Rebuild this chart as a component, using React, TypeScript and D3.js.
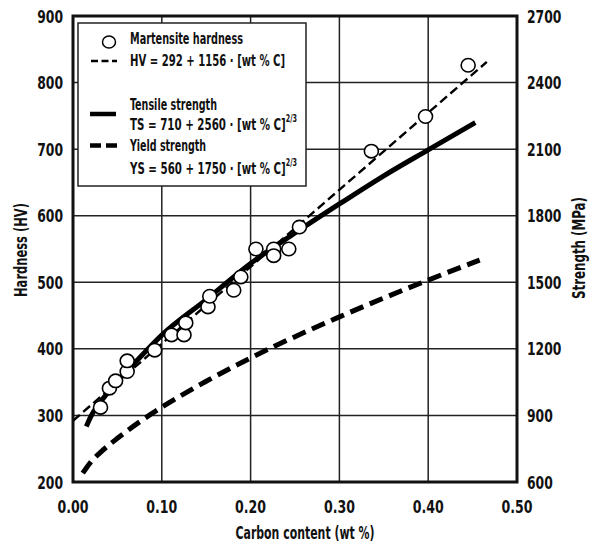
import React from "react";
import * as d3 from "d3";

// ---- data ----
const xTicks = [0, 0.1, 0.2, 0.3, 0.4, 0.5];
const hvTicks = [200, 300, 400, 500, 600, 700, 800, 900];
const mpaTicks = [600, 900, 1200, 1500, 1800, 2100, 2400, 2700];

// martensite hardness measurements (wt % C, HV)
const hardnessC = [0.031, 0.041, 0.048, 0.061, 0.061, 0.092, 0.111, 0.125, 0.127, 0.152, 0.154, 0.181, 0.189, 0.206, 0.226, 0.226, 0.243, 0.255, 0.336, 0.397, 0.445];
const hardnessHV = [312, 341, 352, 366, 382, 398, 421, 421, 439, 463, 479, 488, 508, 550, 550, 540, 550, 583, 697, 749, 826];

// HV fit line (wt % C, HV)
const hvLineC = [0, 0.466];
const hvLineHV = [292, 831];

// tensile strength curve (wt % C, MPa)
const tsC = [0.015, 0.02, 0.03, 0.05, 0.075, 0.1, 0.15, 0.2, 0.25, 0.3, 0.35, 0.4, 0.453];
const tsMPa = [850, 895, 955, 1053, 1160, 1262, 1422, 1585, 1722, 1853, 1980, 2097, 2220];

// yield strength curve (wt % C, MPa)
const ysC = [0.011, 0.02, 0.03, 0.05, 0.075, 0.1, 0.15, 0.2, 0.25, 0.3, 0.35, 0.4, 0.458];
const ysMPa = [640, 690, 730, 797, 871, 937, 1054, 1159, 1255, 1344, 1429, 1510, 1600];

const FONT = "'Liberation Sans Narrow', 'DejaVu Sans Condensed', 'Arial Narrow', sans-serif";

export default function App() {
  const W = 594, H = 545;
  const L = 73, R = 517, T = 16, B = 482;
  const x = d3.scaleLinear().domain([0, 0.5]).range([L, R]);
  const yHV = d3.scaleLinear().domain([200, 900]).range([B, T]);
  const yMPa = d3.scaleLinear().domain([600, 2700]).range([B, T]);

  const lineHV = d3.line<[number, number]>().x(d => x(d[0])).y(d => yHV(d[1]));
  const lineMPa = d3.line<[number, number]>().x(d => x(d[0])).y(d => yMPa(d[1])).curve(d3.curveMonotoneX);

  const hvPts: [number, number][] = hvLineC.map((c, i) => [c, hvLineHV[i]]);
  const tsPts: [number, number][] = tsC.map((c, i) => [c, tsMPa[i]]);
  const ysPts: [number, number][] = ysC.map((c, i) => [c, ysMPa[i]]);

  const lg = { x: 78, y: 23, w: 228, h: 163 };
  const tl = (s: string) => s.length * 8.6;

  return (
    <svg width={W} height={H} style={{ position: "absolute", left: 0, top: 0, background: "#fff" }} fontFamily={FONT}>
      <rect x={0} y={0} width={W} height={H} fill="#fff" />
      {/* grid */}
      <g stroke="#222" strokeWidth={1.5}>
        {xTicks.slice(1, -1).map(t => (
          <line key={"gx" + t} x1={x(t)} x2={x(t)} y1={T} y2={B} />
        ))}
        {hvTicks.slice(1, -1).map(t => (
          <line key={"gy" + t} x1={L} x2={R} y1={yHV(t)} y2={yHV(t)} />
        ))}
      </g>
      {/* curves */}
      <path d={lineMPa(ysPts) || ""} fill="none" stroke="#000" strokeWidth={5} strokeDasharray="14 7" />
      <path d={lineHV(hvPts) || ""} fill="none" stroke="#000" strokeWidth={2.4} strokeDasharray="9 4.5" />
      <path d={lineMPa(tsPts) || ""} fill="none" stroke="#000" strokeWidth={5} />
      {/* points */}
      <g fill="#fff" stroke="#000" strokeWidth={1.6}>
        {hardnessC.map((c, i) => (
          <ellipse key={"p" + i} cx={x(c)} cy={yHV(hardnessHV[i])} rx={7} ry={6.7} />
        ))}
      </g>
      {/* frame */}
      <rect x={L} y={T} width={R - L} height={B - T} fill="none" stroke="#111" strokeWidth={3} />
      {/* legend */}
      <rect x={lg.x} y={lg.y} width={lg.w} height={lg.h} fill="#fff" stroke="#222" strokeWidth={1.5} />
      <ellipse cx={109} cy={42} rx={6.5} ry={6} fill="#fff" stroke="#000" strokeWidth={1.5} />
      <line x1={91} x2={117} y1={61} y2={61} stroke="#000" strokeWidth={2.5} strokeDasharray="7 3.5" />
      <line x1={90} x2={116} y1={114} y2={114} stroke="#000" strokeWidth={4.5} />
      <line x1={90} x2={117} y1={145.5} y2={145.5} stroke="#000" strokeWidth={4.5} strokeDasharray="11 5" />
      <g fontSize={16} fontWeight="bold" fill="#111">
        <text x={130} y={44} textLength={113} lengthAdjust="spacingAndGlyphs">Martensite hardness</text>
        <text x={130} y={66} textLength={155} lengthAdjust="spacingAndGlyphs">HV = 292 + 1156 · [wt % C]</text>
        <text x={130} y={110} textLength={87} lengthAdjust="spacingAndGlyphs">Tensile strength</text>
        <text x={130} y={130} textLength={167} lengthAdjust="spacingAndGlyphs">
          TS = 710 + 2560 · [wt % C]<tspan fontSize={10} dy={-8}>2/3</tspan>
        </text>
        <text x={130} y={151} textLength={76} lengthAdjust="spacingAndGlyphs">Yield strength</text>
        <text x={130} y={174} textLength={167} lengthAdjust="spacingAndGlyphs">
          YS = 560 + 1750 · [wt % C]<tspan fontSize={10} dy={-8}>2/3</tspan>
        </text>
      </g>
      {/* tick labels */}
      <g fontSize={18} fontWeight="bold" fill="#111">
        {hvTicks.map(t => (
          <text key={"hl" + t} x={63} y={yHV(t) + 6.5} textAnchor="end" textLength={tl(String(t))} lengthAdjust="spacingAndGlyphs">{t}</text>
        ))}
        {mpaTicks.map(t => (
          <text key={"ml" + t} x={527} y={yMPa(t) + 6.5} textAnchor="start" textLength={tl(String(t))} lengthAdjust="spacingAndGlyphs">{t}</text>
        ))}
        {xTicks.map(t => (
          <text key={"xl" + t} x={x(t)} y={513} textAnchor="middle" textLength={31} lengthAdjust="spacingAndGlyphs">{t.toFixed(2)}</text>
        ))}
        <text x={305} y={539} textAnchor="middle" textLength={139} lengthAdjust="spacingAndGlyphs">Carbon content (wt %)</text>
        <text transform={`translate(27,250) rotate(-90)`} textAnchor="middle" textLength={94} lengthAdjust="spacingAndGlyphs">Hardness (HV)</text>
        <text transform={`translate(585,248) rotate(-90)`} textAnchor="middle" textLength={102} lengthAdjust="spacingAndGlyphs">Strength (MPa)</text>
      </g>
    </svg>
  );
}
